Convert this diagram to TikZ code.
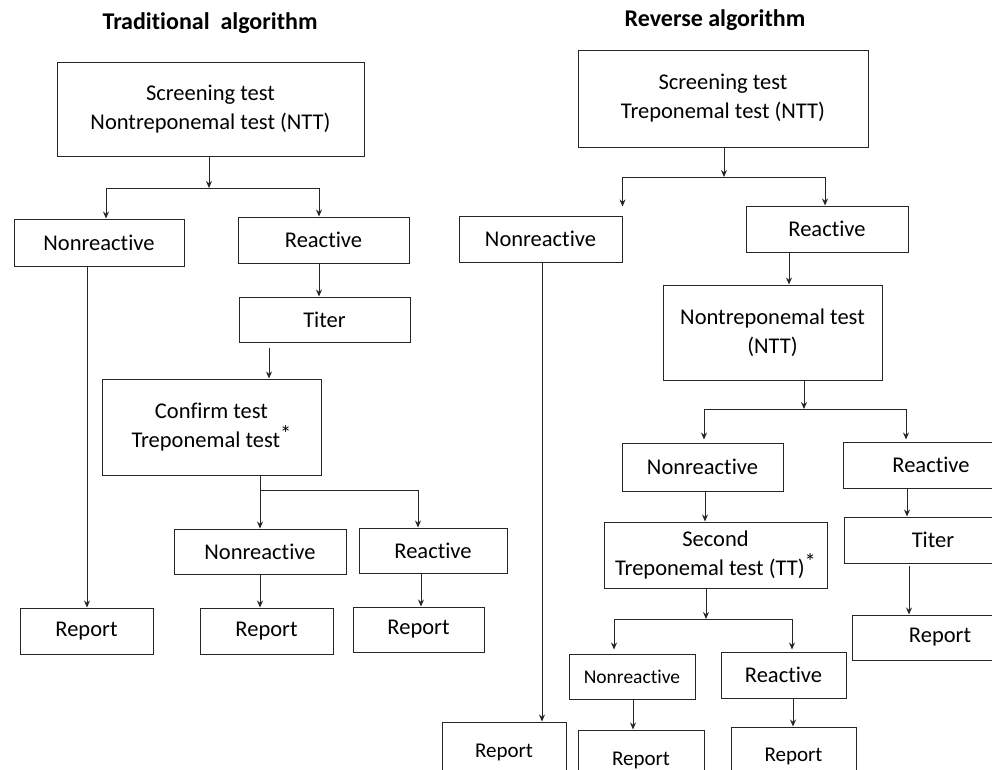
\documentclass[tikz,border=0pt]{standalone}
\usepackage{fontspec}
\setmainfont{Carlito}[Ligatures={NoCommon}]
\usetikzlibrary{arrows.meta,calc}
\newcommand{\astx}{\raisebox{0.28em}{*}}
\begin{document}
\begin{tikzpicture}[x=1pt,y=-1pt,
  bx/.style={draw=black!85, line width=1pt, inner sep=0pt, align=center,
    font=\fontsize{22.5}{29}\selectfont},
  ttl/.style={inner sep=0pt, font=\fontsize{24}{29}\selectfont\bfseries},
  arr/.style={draw=black!85, line width=1pt, -{Stealth[length=7pt,width=6pt]}}]
\useasboundingbox (0,0) rectangle (992,769);
\clip (0,0) rectangle (992,769);

% ---------- Traditional algorithm ----------
\node[ttl] (tt1) at (210,23) {Traditional\ \ algorithm};
\node[bx, minimum width=307, minimum height=94] (s1) at (210.5,109) {Screening test\\Nontreponemal test (NTT)};
\node[bx, minimum width=170, minimum height=47] (nr1) at (99,242.5) {Nonreactive};
\node[bx, minimum width=171, minimum height=46] (r1) at (323.5,240) {Reactive};
\node[bx, minimum width=171, minimum height=45] (t1) at (324.5,319.5) {Titer};
\node[bx, minimum width=219, minimum height=96] (c1) at (211.5,427) {Confirm test\\Treponemal test\astx};
\node[bx, minimum width=172, minimum height=45] (nr2) at (260,551.5) {Nonreactive};
\node[bx, minimum width=148, minimum height=45] (r2) at (433,550.5) {Reactive};
\node[bx, minimum width=133, minimum height=46] (rep1) at (86.5,631) {Report};
\node[bx, minimum width=133, minimum height=46] (rep2) at (266.5,631) {Report};
\node[bx, minimum width=131, minimum height=45] (rep3) at (418.5,629.5) {Report};

\coordinate (j1) at (209,188);
\draw[arr] (s1.south -| j1) -- (j1);
\draw[arr] (j1) -| ([xshift=7pt]nr1.north);
\draw[arr] (j1) -| ([xshift=-4.5pt]r1.north);
\draw[arr] ([xshift=-4.5pt]r1.south) -- ([xshift=-4.5pt]r1.south |- t1.north);
\draw[arr] ([xshift=-55.5pt,yshift=-5pt]t1.south) -- ([xshift=-55.5pt]t1.south |- c1.north);
\draw[arr] ([xshift=-12pt]nr1.south) -- ([xshift=-12pt]nr1.south |- rep1.north);
\coordinate (j2) at (260,490);
\draw[arr] (c1.south -| nr2.north) -- (nr2.north);
\draw[arr] (j2) -| ([xshift=-15pt]r2.north);
\draw[arr] (nr2.south) -- (nr2.south |- rep2.north);
\draw[arr] ([xshift=-12pt]r2.south) -- ([xshift=-12pt]r2.south |- rep3.north);

% ---------- Reverse algorithm ----------
\node[ttl] (tt2) at (715,20) {Reverse algorithm};
\node[bx, minimum width=290, minimum height=97] (s2) at (723,98.5) {Screening test\\Treponemal test (NTT)};
\node[bx, minimum width=163, minimum height=46] (nrR) at (540.5,239) {Nonreactive};
\node[bx, minimum width=162, minimum height=46] (rR) at (827,229) {Reactive};
\node[bx, minimum width=219, minimum height=95] (ntt) at (772.5,332.5) {Nontreponemal test\\(NTT)};
\node[bx, minimum width=161, minimum height=48] (nrR2) at (702.5,467) {Nonreactive};
\node[bx, minimum width=176, minimum height=46] (rR2) at (931,465) {Reactive};
\node[bx, minimum width=223, minimum height=66] (sec) at (715.5,555) {Second\\Treponemal test (TT)\astx};
\node[bx, minimum width=178, minimum height=46] (tR) at (933,540) {Titer};
\node[bx, minimum width=176, minimum height=45] (repR) at (940,637.5) {Report};
\node[bx, minimum width=126, minimum height=45, font=\fontsize{19.5}{24}\selectfont] (nr3) at (632,676.5) {Nonreactive};
\node[bx, minimum width=125, minimum height=46] (r3) at (783.5,675) {Reactive};
\node[bx, minimum width=126, minimum height=60, font=\fontsize{21}{26}\selectfont] (rep4) at (641,760) {Report};
\node[bx, minimum width=125, minimum height=58, font=\fontsize{21}{26}\selectfont] (rep5) at (793.5,756) {Report};
\node[bx, minimum width=124, minimum height=60, font=\fontsize{21}{26}\selectfont] (rep6) at (504,752) {Report};

\coordinate (j3) at (724,177);
\draw[arr] (s2.south -| j3) -- (j3);
\draw[arr] (j3) -| ([yshift=9pt]nrR.north east);
\draw[arr] (j3) -| ([xshift=-2pt]rR.north);
\draw[arr] ([xshift=-38pt]rR.south) -- ([xshift=-38pt]rR.south |- ntt.north);
\coordinate (j4) at (804,409);
\draw[arr] (ntt.south -| j4) -- (j4);
\draw[arr] (j4) -| ([xshift=1.5pt,yshift=3pt]nrR2.north);
\draw[arr] (j4) -| ([xshift=-25pt,yshift=2pt]rR2.north);
\draw[arr] ([xshift=2.5pt]nrR2.south) -- ([xshift=2.5pt]nrR2.south |- sec.north);
\draw[arr] ([xshift=-24pt]rR2.south) -- ([xshift=-24pt]rR2.south |- tR.north);
\draw[arr] ([xshift=-24pt,yshift=-2pt]tR.south) -- ([xshift=-24pt]tR.south |- repR.north);
\coordinate (j5) at (706,619);
\draw[arr] (sec.south -| j5) -- (j5);
\draw[arr] (j5) -| ([xshift=-18pt,yshift=4pt]nr3.north);
\draw[arr] (j5) -| ([xshift=8.5pt,yshift=2pt]r3.north);
\draw[arr] ([xshift=1pt]nr3.south) -- ([xshift=1pt]nr3.south |- rep4.north);
\draw[arr] ([xshift=9.5pt]r3.south) -- ([xshift=9.5pt]r3.south |- rep5.north);
\draw[arr] ([xshift=1.5pt]nrR.south) -- ([xshift=1.5pt]nrR.south |- rep6.north);
\end{tikzpicture}
\end{document}
